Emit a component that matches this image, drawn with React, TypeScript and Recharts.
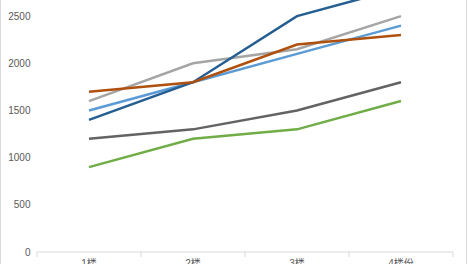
import React from "react";
import { LineChart, Line, XAxis, YAxis } from "recharts";

const categories = ["1楼", "2楼", "3楼", "4楼份"];
const series1 = [1400, 1800, 2500, 2800]; // dark blue
const series2 = [1500, 1800, 2100, 2400]; // light blue
const series3 = [1700, 1800, 2200, 2300]; // orange
const series4 = [1600, 2000, 2150, 2500]; // light gray
const series5 = [1200, 1300, 1500, 1800]; // dark gray
const series6 = [900, 1200, 1300, 1600]; // green
const yTicks = [0, 500, 1000, 1500, 2000, 2500, 3000];

const data = categories.map((c, i) => ({
  name: c,
  s1: series1[i],
  s2: series2[i],
  s3: series3[i],
  s4: series4[i],
  s5: series5[i],
  s6: series6[i],
}));

const FONT = "'Liberation Sans', 'Noto Sans CJK SC', sans-serif";
const HALF_BAND = 52;

const XTick = (props: any) => {
  const { x, y, payload, index } = props;
  const off = HALF_BAND;
  return (
    <g>
      <line x1={x - off} y1={y} x2={x - off} y2={y + 5} stroke="#D9D9D9" strokeWidth={1} />
      {index === categories.length - 1 && (
        <line x1={x + off} y1={y} x2={x + off} y2={y + 5} stroke="#D9D9D9" strokeWidth={1} />
      )}
      <text x={x} y={y + 14.5} textAnchor="middle" fill="#595959" fontSize={10} fontFamily={FONT}>
        {payload.value}
      </text>
    </g>
  );
};

export default function App() {
  return (
    <div
      style={{
        position: "absolute",
        left: 0,
        top: -40,
        width: 465,
        height: 310,
        borderLeft: "1px solid #D9D9D9",
        borderRight: "1px solid #D9D9D9",
        background: "#fff",
      }}
    >
      <LineChart
        width={465}
        height={310}
        data={data}
        margin={{ top: 9, right: 13, left: 0, bottom: 0 }}
      >
        <XAxis
          dataKey="name"
          height={18}
          padding={{ left: HALF_BAND, right: HALF_BAND }}
          axisLine={{ stroke: "#D9D9D9", strokeWidth: 1 }}
          tickLine={false}
          tickSize={0}
          tickMargin={0}
          tick={<XTick />}
          interval={0}
        />
        <YAxis
          width={36}
          domain={[0, 3000]}
          ticks={yTicks}
          axisLine={false}
          tickLine={false}
          tickSize={6}
          tickMargin={0.5}
          tick={{ fill: "#595959", fontSize: 10, fontFamily: FONT }}
          interval={0}
        />
        <Line type="linear" dataKey="s4" stroke="#A5A5A5" strokeWidth={2.5} dot={false} isAnimationActive={false} />
        <Line type="linear" dataKey="s2" stroke="#5B9BD5" strokeWidth={2.5} dot={false} isAnimationActive={false} />
        <Line type="linear" dataKey="s5" stroke="#636363" strokeWidth={2.5} dot={false} isAnimationActive={false} />
        <Line type="linear" dataKey="s6" stroke="#70AD47" strokeWidth={2.5} dot={false} isAnimationActive={false} />
        <Line type="linear" dataKey="s1" stroke="#255E91" strokeWidth={2.5} dot={false} isAnimationActive={false} />
        <Line type="linear" dataKey="s3" stroke="#B0500F" strokeWidth={2.5} dot={false} isAnimationActive={false} />
      </LineChart>
    </div>
  );
}
